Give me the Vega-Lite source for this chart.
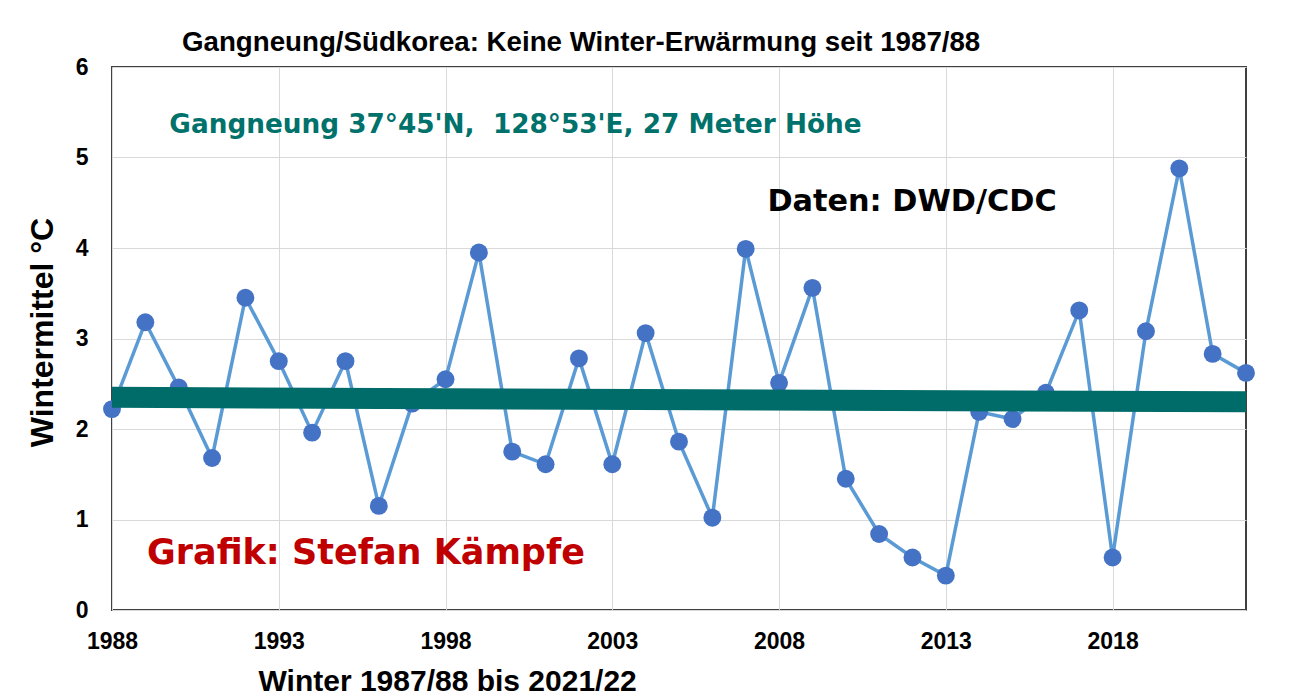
{
  "$schema": "https://vega.github.io/schema/vega-lite/v6.json",
  "autosize": {"type": "none"},
  "padding": {"left": 112, "top": 67, "right": 44, "bottom": 88},
  "width": 1134,
  "height": 543,
  "background": "white",
  "config": {
    "view": {"stroke": "#404040", "strokeWidth": 2},
    "axis": {
      "labelFont": "Liberation Sans",
      "labelFontWeight": "bold",
      "labelFontSize": 23,
      "labelColor": "black",
      "titleFont": "Liberation Sans",
      "titleFontWeight": "bold",
      "titleColor": "black",
      "gridColor": "#D9D9D9",
      "gridWidth": 1,
      "domain": false,
      "ticks": false,
      "tickSize": 0
    }
  },
  "title": {
    "text": "Gangneung/Südkorea: Keine Winter-Erwärmung seit 1987/88",
    "anchor": "start",
    "frame": "group",
    "dx": 70,
    "dy": 39,
    "offset": 16,
    "baseline": "alphabetic",
    "font": "Liberation Sans",
    "fontSize": 27.7,
    "fontWeight": "bold",
    "color": "black"
  },
  "data": {
    "values": [
      {"year": 1988, "temp": 2.22},
      {"year": 1989, "temp": 3.18},
      {"year": 1990, "temp": 2.46},
      {"year": 1991, "temp": 1.68},
      {"year": 1992, "temp": 3.45},
      {"year": 1993, "temp": 2.75},
      {"year": 1994, "temp": 1.96},
      {"year": 1995, "temp": 2.75},
      {"year": 1996, "temp": 1.15},
      {"year": 1997, "temp": 2.28},
      {"year": 1998, "temp": 2.55},
      {"year": 1999, "temp": 3.95},
      {"year": 2000, "temp": 1.75},
      {"year": 2001, "temp": 1.61},
      {"year": 2002, "temp": 2.78},
      {"year": 2003, "temp": 1.61},
      {"year": 2004, "temp": 3.06},
      {"year": 2005, "temp": 1.86},
      {"year": 2006, "temp": 1.02},
      {"year": 2007, "temp": 3.99},
      {"year": 2008, "temp": 2.51},
      {"year": 2009, "temp": 3.56},
      {"year": 2010, "temp": 1.45},
      {"year": 2011, "temp": 0.84},
      {"year": 2012, "temp": 0.58},
      {"year": 2013, "temp": 0.38},
      {"year": 2014, "temp": 2.19},
      {"year": 2015, "temp": 2.11},
      {"year": 2016, "temp": 2.40},
      {"year": 2017, "temp": 3.31},
      {"year": 2018, "temp": 0.58},
      {"year": 2019, "temp": 3.08},
      {"year": 2020, "temp": 4.88},
      {"year": 2021, "temp": 2.83},
      {"year": 2022, "temp": 2.62}
    ]
  },
  "layer": [
    {
      "mark": {"type": "line", "color": "#5B9BD5", "strokeWidth": 3.5},
      "encoding": {
        "x": {
          "field": "year", "type": "quantitative",
          "scale": {"domain": [1988, 2022], "nice": false, "zero": false},
          "axis": {
            "values": [1988, 1993, 1998, 2003, 2008, 2013, 2018],
            "format": "d",
            "grid": true,
            "labelPadding": 20,
            "labelFlush": false,
            "title": "Winter 1987/88 bis 2021/22",
            "titleFontSize": 30,
            "titleX": 146,
            "titleY": 80,
            "titleAlign": "left",
            "titleBaseline": "alphabetic"
          }
        },
        "y": {
          "field": "temp", "type": "quantitative",
          "scale": {"domain": [0, 6], "nice": false},
          "axis": {
            "values": [0, 1, 2, 3, 4, 5, 6],
            "format": "d",
            "grid": true,
            "labelPadding": 24,
            "title": "Wintermittel °C",
            "titleFontSize": 32,
            "titleAngle": -90,
            "titleX": -60,
            "titleY": 265,
            "titleAlign": "center",
            "titleBaseline": "alphabetic"
          }
        }
      }
    },
    {
      "mark": {"type": "point", "filled": true, "color": "#4472C4", "size": 320, "opacity": 1},
      "encoding": {
        "x": {"field": "year", "type": "quantitative"},
        "y": {"field": "temp", "type": "quantitative"}
      }
    },
    {
      "transform": [{"regression": "temp", "on": "year", "extent": [1988, 2022]}],
      "mark": {"type": "line", "color": "#006C6A", "strokeWidth": 21, "strokeCap": "butt"},
      "encoding": {
        "x": {"field": "year", "type": "quantitative"},
        "y": {"field": "temp", "type": "quantitative"}
      }
    },
    {
      "data": {"values": [{"label": "Gangneung 37°45'N, \u00a0128°53'E, 27 Meter Höhe"}]},
      "mark": {"type": "text", "font": "DejaVu Sans", "fontWeight": "bold", "fontSize": 26.3, "color": "#00716B", "align": "left", "baseline": "alphabetic"},
      "encoding": {
        "x": {"datum": 1989.72, "type": "quantitative"},
        "y": {"datum": 5.274, "type": "quantitative"},
        "text": {"field": "label"}
      }
    },
    {
      "data": {"values": [{"label": "Daten: DWD/CDC"}]},
      "mark": {"type": "text", "font": "DejaVu Sans", "fontWeight": "bold", "fontSize": 30.3, "color": "black", "align": "left", "baseline": "alphabetic"},
      "encoding": {
        "x": {"datum": 2007.65, "type": "quantitative"},
        "y": {"datum": 4.412, "type": "quantitative"},
        "text": {"field": "label"}
      }
    },
    {
      "data": {"values": [{"label": "Grafik: Stefan Kämpfe"}]},
      "mark": {"type": "text", "font": "DejaVu Sans", "fontWeight": "bold", "fontSize": 35, "color": "#C00000", "align": "left", "baseline": "alphabetic"},
      "encoding": {
        "x": {"datum": 1989.05, "type": "quantitative"},
        "y": {"datum": 0.505, "type": "quantitative"},
        "text": {"field": "label"}
      }
    }
  ]
}
